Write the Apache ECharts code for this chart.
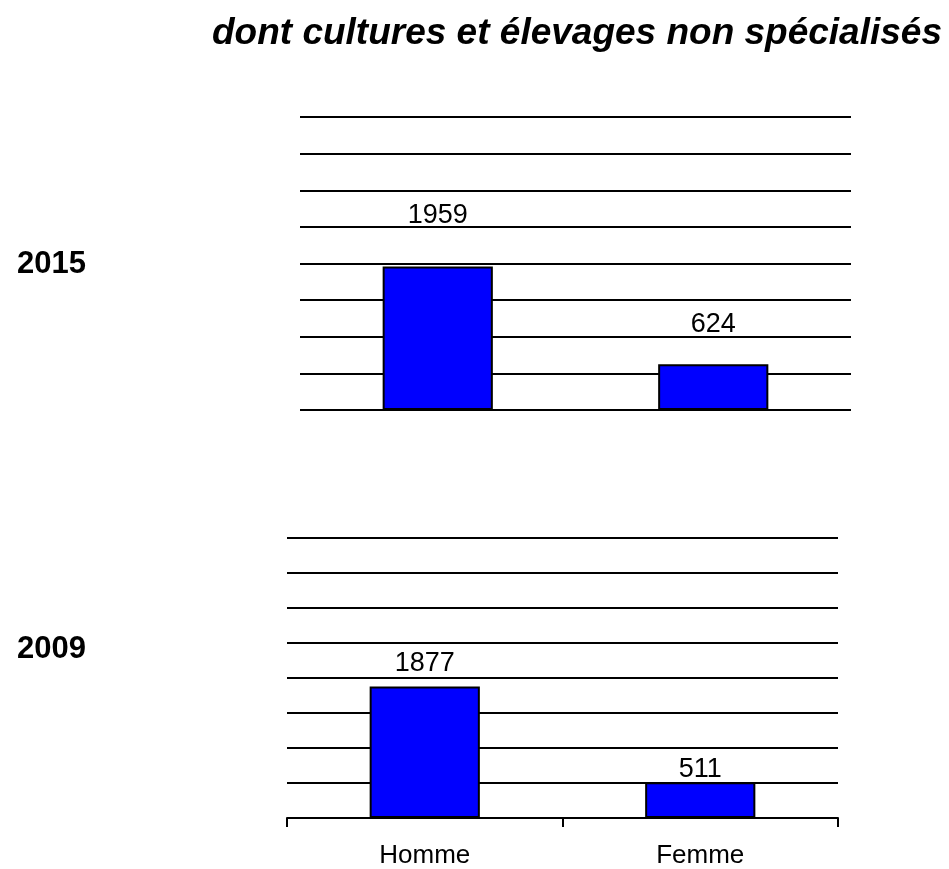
<!DOCTYPE html>
<html>
<head>
<meta charset="utf-8">
<script src="https://cdn.jsdelivr.net/npm/echarts@6/dist/echarts.min.js"></script>
<style>
  html, body { margin: 0; padding: 0; background: #fff; }
  #chart { width: 949px; height: 869px; }
</style>
</head>
<body>
<div id="chart"></div>
<script>
// donnees
const categories = ['Homme', 'Femme'];
const years = ['2015', '2009'];
const values2015 = [1959, 624];
const values2009 = [1877, 511];

const chart = echarts.init(document.getElementById('chart'));

const font = 'Liberation Sans, Arial, sans-serif';

// axe des valeurs commun (0 - 4000, pas de 500)
function valueAxis(idx) {
    return {
        gridIndex: idx,
        type: 'value',
        min: 0,
        max: 4000,
        interval: 500,
        axisLine: { show: false },
        axisTick: { show: false },
        axisLabel: { show: false },
        splitLine: { show: true, lineStyle: { color: '#000', width: 2 } }
    };
}

// ecart entre le haut de la barre et l'etiquette
function barSeries(idx, values, gaps) {
    return {
        type: 'bar',
        xAxisIndex: idx,
        yAxisIndex: idx,
        barWidth: '40%',
        itemStyle: { color: '#0000ff', borderColor: '#000', borderWidth: 2 },
        label: {
            show: true,
            position: 'top',
            color: '#000',
            fontFamily: font,
            fontSize: 27
        },
        data: values.map((v, i) => ({ value: v, label: { distance: gaps[i] } }))
    };
}

const option = {
    backgroundColor: '#fff',
    animation: false,
    title: {
        text: 'dont cultures et élevages non spécialisés',
        left: 207,
        top: 10,
        textStyle: {
            fontFamily: font,
            fontSize: 37,
            fontWeight: 'bold',
            fontStyle: 'italic',
            color: '#000'
        }
    },
    graphic: [
        {
            type: 'text', left: 17, top: 249,
            style: { text: years[0], font: 'bold 31px ' + font, fill: '#000' }
        },
        {
            type: 'text', left: 17, top: 634,
            style: { text: years[1], font: 'bold 31px ' + font, fill: '#000' }
        }
    ],
    grid: [
        { left: 300, top: 117, width: 551, height: 293 },
        { left: 287, top: 538, width: 551, height: 282 }
    ],
    xAxis: [
        {
            gridIndex: 0,
            type: 'category',
            data: categories,
            axisLine: { show: false },
            axisTick: { show: false },
            axisLabel: { show: false }
        },
        {
            gridIndex: 1,
            type: 'category',
            data: categories,
            axisLine: { show: true, lineStyle: { color: '#000', width: 2 } },
            axisTick: { show: true, length: 9, lineStyle: { color: '#000', width: 2 } },
            axisLabel: {
                color: '#000',
                fontFamily: font,
                fontSize: 26,
                margin: 25
            }
        }
    ],
    yAxis: [valueAxis(0), valueAxis(1)],
    series: [
        barSeries(0, values2015, [37, 26]),
        barSeries(1, values2009, [10, -1])
    ]
};

chart.setOption(option);
</script>
</body>
</html>
